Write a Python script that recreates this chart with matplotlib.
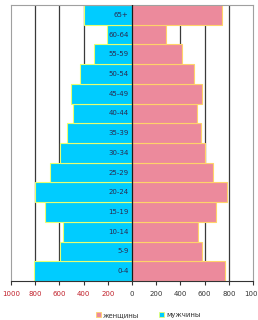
import matplotlib
matplotlib.use("Agg")
import matplotlib.pyplot as plt
from matplotlib.patches import Patch

categories = ["0-4", "5-9", "10-14", "15-19", "20-24", "25-29", "30-34",
              "35-39", "40-44", "45-49", "50-54", "55-59", "60-64", "65+"]
men = [811, 598, 572, 718, 800, 679, 595, 538, 490, 508, 430, 316, 205, 395]
women = [769, 575, 547, 691, 783, 670, 605, 567, 537, 576, 512, 410, 284, 744]
tick_values = [-1000, -800, -600, -400, -200, 0, 200, 400, 600, 800, 1000]
tick_labels = ["1000", "800", "600", "400", "200", "0", "200", "400", "600", "800", "1000"]
series_names = ["женщины", "мужчины"]

blue = "#00CCFF"
pink = "#EC8A9C"
blue_edge = "#E8FF70"
pink_edge = "#FFD36A"

fig = plt.figure(figsize=(2.58, 3.2), dpi=100)
ax = fig.add_axes([11/258, 1 - 281/320, 242/258, 276/320])

y = list(range(len(categories)))
ax.barh(y, [-v for v in men], height=1.0, color=blue, edgecolor=blue_edge,
        linewidth=0.8, zorder=2)
ax.barh(y, women, height=1.0, color=pink, edgecolor=pink_edge,
        linewidth=0.8, zorder=2)

for gx in [-800, -600, -400, -200, 200, 400, 600, 800]:
    ax.axvline(gx, color="#3a3a3a", linewidth=0.9, zorder=0)
ax.axvline(0, color="#1a1a1a", linewidth=0.9, zorder=3)

for yi, cat in zip(y, categories):
    ax.annotate(cat, xy=(0, yi), xytext=(-2.5, 0), textcoords="offset points",
                ha="right", va="center", fontsize=5, color="#2a2a50", zorder=4)

ax.set_xlim(-1000, 1000)
ax.set_ylim(-0.5, len(categories) - 0.5)
ax.set_yticks([])
ax.set_xticks(tick_values)
ax.set_xticklabels(tick_labels, fontsize=5)
for lbl, v in zip(ax.get_xticklabels(), tick_values):
    lbl.set_color("#C0202A" if v < 0 else "#333333")
ax.tick_params(axis="x", direction="out", length=3, width=0.8, color="#333333", pad=4)

for side in ["left", "right", "top"]:
    ax.spines[side].set_color("#A0A0A0")
    ax.spines[side].set_linewidth(0.8)
ax.spines["bottom"].set_color("#333333")
ax.spines["bottom"].set_linewidth(0.8)

handles = [Patch(facecolor=pink, edgecolor=pink_edge, linewidth=0.6),
           Patch(facecolor=blue, edgecolor=blue_edge, linewidth=0.6)]
fig.legend(handles, series_names, loc="center", bbox_to_anchor=(0.575, 1 - 315/320),
           ncol=2, frameon=False, fontsize=5, handlelength=0.7, handleheight=0.7,
           handletextpad=0.3, columnspacing=2.85, labelcolor="#333333")

fig.savefig("out.png", dpi=100)
